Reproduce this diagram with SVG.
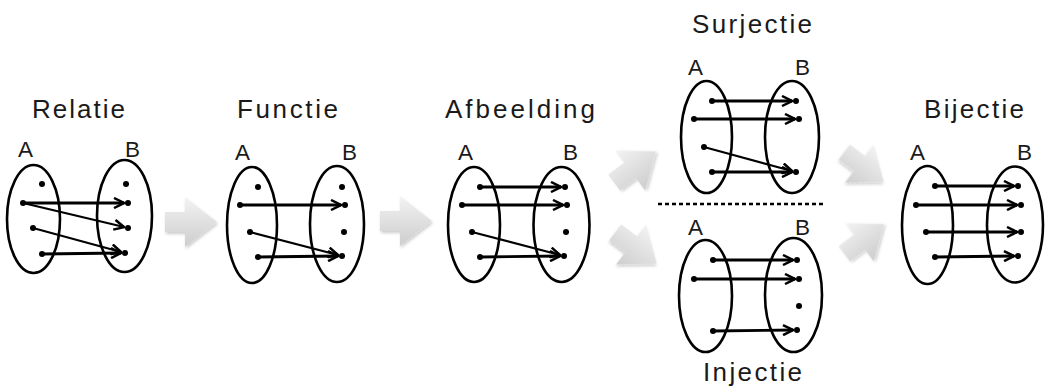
<svg xmlns="http://www.w3.org/2000/svg" width="1046" height="390" viewBox="0 0 1046 390">
<style>
.t{font-family:"Liberation Sans",Arial,sans-serif;font-size:26px;fill:#1a1a1a}
.l{font-family:"Liberation Sans",Arial,sans-serif;font-size:22.5px;fill:#1a1a1a}
.e{fill:none;stroke:#000;stroke-width:2.6}
.d{fill:#000}
.m{fill:none;stroke:#000;stroke-width:2.8;marker-end:url(#ah)}
.s{fill:none;stroke:#000;stroke-width:2.1;marker-end:url(#ah)}
.g{fill:url(#gr);filter:url(#sh)}
</style>
<defs>
<marker id="ah" viewBox="0 0 12 12" refX="11" refY="6" markerWidth="12" markerHeight="12" markerUnits="userSpaceOnUse" orient="auto">
<path d="M1,1 L11,6 L1,11" fill="none" stroke="#000" stroke-width="2.5"/>
</marker>
<linearGradient id="gr" x1="0" y1="0" x2="0" y2="1">
<stop offset="0" stop-color="#f3f3f3"/>
<stop offset="1" stop-color="#cdcdcd"/>
</linearGradient>
<filter id="sh" x="-20%" y="-20%" width="140%" height="140%">
<feDropShadow dx="1" dy="2" stdDeviation="1.5" flood-color="#000" flood-opacity="0.2"/>
</filter>
<path id="ba" d="M-26,-10 L-6,-10 L-6,-25 L26,0 L-6,25 L-6,10 L-26,10 Z"/>
</defs>

<g id="connectors">
<use href="#ba" class="g" transform="translate(191,222)"/>
<use href="#ba" class="g" transform="translate(406,221)"/>
<use href="#ba" class="g" transform="translate(635,167) rotate(-37)"/>
<use href="#ba" class="g" transform="translate(636,248) rotate(37)"/>
<use href="#ba" class="g" transform="translate(864,167) rotate(37) scale(0.95)"/>
<use href="#ba" class="g" transform="translate(864,239) rotate(-37) scale(0.95)"/>
</g>

<g id="relatie">
<text class="t" x="32" y="118" textLength="93" lengthAdjust="spacing">Relatie</text>
<text class="l" x="18" y="157">A</text>
<text class="l" x="125" y="157">B</text>
<ellipse class="e" cx="33.5" cy="219" rx="26.5" ry="54"/>
<ellipse class="e" cx="124.5" cy="216" rx="27.5" ry="56"/>
<circle class="d" cx="42" cy="184" r="3"/><circle class="d" cx="23" cy="203" r="3"/><circle class="d" cx="33" cy="228" r="3"/><circle class="d" cx="42" cy="254" r="3"/>
<circle class="d" cx="126" cy="184" r="3"/><circle class="d" cx="128" cy="203" r="3"/><circle class="d" cx="128" cy="228" r="3"/><circle class="d" cx="125" cy="253" r="3"/>
<line class="m" x1="23" y1="203" x2="124" y2="203"/>
<line class="s" x1="23" y1="203" x2="124.1" y2="227.1"/>
<line class="s" x1="33" y1="228" x2="121.1" y2="252"/>
<line class="m" x1="42" y1="254" x2="121" y2="253"/>
</g>

<g id="functie">
<text class="t" x="237" y="118" textLength="101" lengthAdjust="spacing">Functie</text>
<text class="l" x="235" y="160">A</text>
<text class="l" x="342" y="160">B</text>
<ellipse class="e" cx="252" cy="225" rx="25" ry="58"/>
<ellipse class="e" cx="337" cy="224" rx="27" ry="58"/>
<circle class="d" cx="258" cy="187" r="3"/><circle class="d" cx="240" cy="205" r="3"/><circle class="d" cx="250" cy="232" r="3"/><circle class="d" cx="258" cy="257" r="3"/>
<circle class="d" cx="342" cy="187" r="3"/><circle class="d" cx="345" cy="205" r="3"/><circle class="d" cx="344" cy="232" r="3"/><circle class="d" cx="342" cy="256" r="3"/>
<line class="m" x1="240" y1="205" x2="341" y2="205"/>
<line class="s" x1="250" y1="232" x2="338.1" y2="255"/>
<line class="m" x1="258" y1="257" x2="338" y2="256"/>
</g>

<g id="afbeelding">
<text class="t" x="445" y="118" textLength="150" lengthAdjust="spacing">Afbeelding</text>
<text class="l" x="458" y="160">A</text>
<text class="l" x="563" y="160">B</text>
<ellipse class="e" cx="474" cy="224.5" rx="26" ry="57.5"/>
<ellipse class="e" cx="561.5" cy="224.5" rx="28" ry="57.5"/>
<circle class="d" cx="480" cy="187" r="3"/><circle class="d" cx="462" cy="205" r="3"/><circle class="d" cx="472" cy="232" r="3"/><circle class="d" cx="480" cy="257" r="3"/>
<circle class="d" cx="565" cy="187" r="3"/><circle class="d" cx="567" cy="205" r="3"/><circle class="d" cx="566" cy="232" r="3"/><circle class="d" cx="564" cy="256" r="3"/>
<line class="m" x1="480" y1="187" x2="561" y2="187"/>
<line class="m" x1="462" y1="205" x2="563" y2="205"/>
<line class="s" x1="472" y1="232" x2="560.1" y2="255"/>
<line class="m" x1="480" y1="257" x2="560" y2="256"/>
</g>

<g id="surjectie">
<text class="t" x="692" y="33" textLength="120" lengthAdjust="spacing">Surjectie</text>
<text class="l" x="688" y="75">A</text>
<text class="l" x="795" y="75">B</text>
<ellipse class="e" cx="706.5" cy="137" rx="25.5" ry="56"/>
<ellipse class="e" cx="792" cy="137" rx="27" ry="56"/>
<circle class="d" cx="712" cy="101" r="3"/><circle class="d" cx="694" cy="119" r="3"/><circle class="d" cx="704" cy="147" r="3"/><circle class="d" cx="712" cy="172" r="3"/>
<circle class="d" cx="796" cy="101" r="3"/><circle class="d" cx="799" cy="119" r="3"/><circle class="d" cx="796" cy="172" r="3"/>
<line class="m" x1="712" y1="101" x2="792" y2="101"/>
<line class="m" x1="694" y1="119" x2="795" y2="119"/>
<line class="s" x1="704" y1="147" x2="792.1" y2="171"/>
<line class="m" x1="712" y1="172" x2="792" y2="172"/>
</g>

<line x1="658" y1="204" x2="823" y2="204" stroke="#000" stroke-width="2.5" stroke-dasharray="4 3"/>

<g id="injectie">
<text class="l" x="688" y="235">A</text>
<text class="l" x="795" y="235">B</text>
<ellipse class="e" cx="705.5" cy="296" rx="26.5" ry="56"/>
<ellipse class="e" cx="793.5" cy="295" rx="28.5" ry="57"/>
<circle class="d" cx="713" cy="260" r="3"/><circle class="d" cx="694" cy="279" r="3"/><circle class="d" cx="713" cy="331" r="3"/>
<circle class="d" cx="797" cy="260" r="3"/><circle class="d" cx="799" cy="279" r="3"/><circle class="d" cx="799" cy="306" r="3"/><circle class="d" cx="797" cy="330" r="3"/>
<line class="m" x1="713" y1="260" x2="793" y2="260"/>
<line class="m" x1="694" y1="279" x2="795" y2="279"/>
<line class="m" x1="713" y1="331" x2="793" y2="330"/>
<text class="t" x="703" y="381" textLength="99" lengthAdjust="spacing">Injectie</text>
</g>

<g id="bijectie">
<text class="t" x="924" y="118" textLength="100" lengthAdjust="spacing">Bijectie</text>
<text class="l" x="910" y="160">A</text>
<text class="l" x="1017" y="160">B</text>
<ellipse class="e" cx="927.5" cy="225" rx="25.5" ry="59"/>
<ellipse class="e" cx="1015" cy="224.5" rx="28" ry="58"/>
<circle class="d" cx="935" cy="186" r="3"/><circle class="d" cx="916" cy="205" r="3"/><circle class="d" cx="926" cy="232" r="3"/><circle class="d" cx="935" cy="257" r="3"/>
<circle class="d" cx="1018" cy="186" r="3"/><circle class="d" cx="1021" cy="205" r="3"/><circle class="d" cx="1021" cy="232" r="3"/><circle class="d" cx="1018" cy="256" r="3"/>
<line class="m" x1="935" y1="186" x2="1014" y2="186"/>
<line class="m" x1="916" y1="205" x2="1017" y2="205"/>
<line class="m" x1="926" y1="232" x2="1017" y2="232"/>
<line class="m" x1="935" y1="257" x2="1014" y2="256"/>
</g>
</svg>
